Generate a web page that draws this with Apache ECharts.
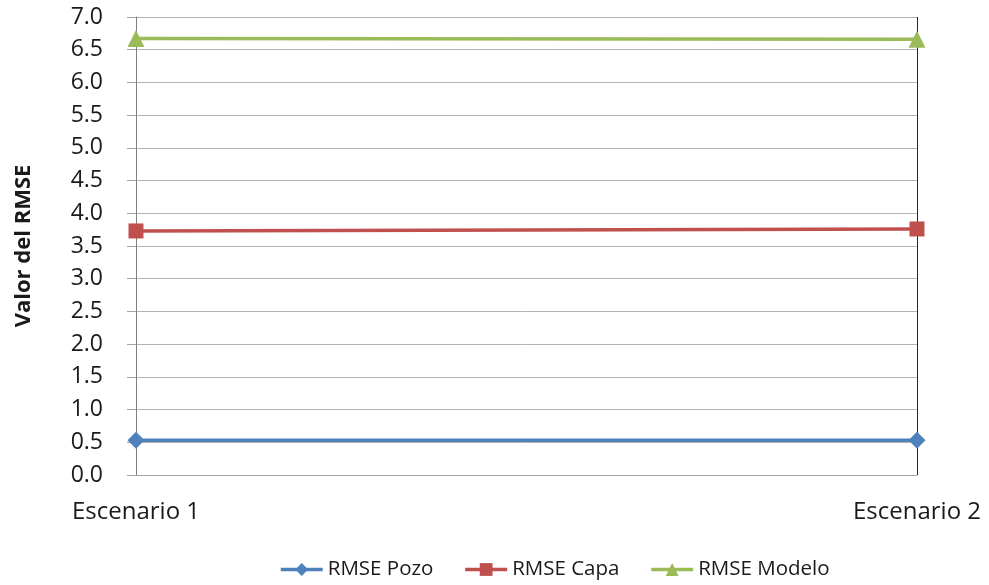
<!DOCTYPE html>
<html><head><meta charset="utf-8">
<script src="https://cdn.jsdelivr.net/npm/echarts@6/dist/echarts.min.js"></script>
<style>html,body{margin:0;padding:0;background:#fff}#c{width:989px;height:585px}</style>
</head><body><div id="c"></div>
<script>
const categories = ['Escenario 1', 'Escenario 2'];
const rmsePozo = [0.53, 0.53];
const rmseCapa = [3.73, 3.76];
const rmseModelo = [6.67, 6.66];
const yTicks = { min: 0, max: 7, interval: 0.5 };

const FONT = '"Open Sans", "Noto Sans", sans-serif';
const chart = echarts.init(document.getElementById('c'), null, { renderer: 'canvas' });
chart.setOption({
  animation: false,
  textStyle: { fontFamily: FONT },
  grid: { left: 136, right: 72, top: 17, bottom: 110, containLabel: false },
  legend: {
    bottom: 0, left: 274, itemGap: 30, itemWidth: 42, itemHeight: 16,
    lineStyle: { width: 3.5 },
    textStyle: { fontSize: 20.5, color: '#1a1a1a', fontFamily: FONT },
    data: ['RMSE Pozo', 'RMSE Capa', 'RMSE Modelo']
  },
  xAxis: {
    type: 'category', data: categories, boundaryGap: false,
    axisLine: { show: true, lineStyle: { color: '#a6a6a6', width: 1 } },
    axisTick: { show: false },
    axisLabel: { fontSize: 24, color: '#1a1a1a', margin: 25, fontFamily: FONT },
    splitLine: { show: true, lineStyle: { color: '#262626', width: 1 } }
  },
  yAxis: {
    type: 'value', min: yTicks.min, max: yTicks.max, interval: yTicks.interval,
    name: 'Valor del RMSE', nameLocation: 'middle', nameGap: 101, nameRotate: 90,
    nameTextStyle: { fontSize: 22, fontWeight: 'bold', color: '#1a1a1a', fontFamily: FONT },
    axisLine: { show: true, lineStyle: { color: '#7f7f7f', width: 1 } },
    axisTick: { show: true, length: 9, inside: false, lineStyle: { color: '#a6a6a6' } },
    axisLabel: { fontSize: 23, color: '#1a1a1a', margin: 33, fontFamily: FONT,
      formatter: v => v.toFixed(1) },
    splitLine: { show: true, lineStyle: { color: '#b3b3b3', width: 1 } }
  },
  series: [
    { name: 'RMSE Pozo', type: 'line', data: rmsePozo, symbol: 'diamond', symbolSize: 17,
      lineStyle: { color: '#4F81BD', width: 3.5 }, itemStyle: { color: '#4F81BD' } },
    { name: 'RMSE Capa', type: 'line', data: rmseCapa, symbol: 'rect', symbolSize: 15,
      lineStyle: { color: '#C0504D', width: 3.5 }, itemStyle: { color: '#C0504D' } },
    { name: 'RMSE Modelo', type: 'line', data: rmseModelo, symbol: 'triangle', symbolSize: 17,
      lineStyle: { color: '#9BBB59', width: 3.5 }, itemStyle: { color: '#9BBB59' } }
  ]
});
</script></body></html>
